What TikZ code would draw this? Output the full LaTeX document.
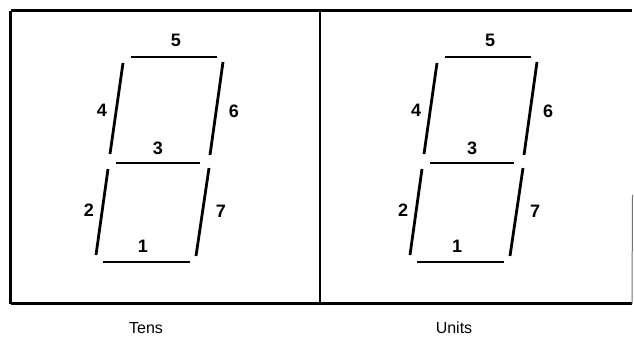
\documentclass[tikz,border=0pt]{standalone}
\usepackage{fontspec}
\setmainfont{Liberation Sans}
\begin{document}
\begin{tikzpicture}[x=1pt,y=-1pt,
  seg/.style={line width=2.8pt},
  lab/.style={font=\fontsize{18}{20}\selectfont\bfseries, inner sep=0pt},
  captext/.style={font=\fontsize{16}{18}\selectfont, inner sep=0pt},
  thickframe/.style={line width=3pt},
  thinframe/.style={line width=2.2pt},
  sevenseg/.pic={
    \draw[seg] (131,57) -- (217,57);
    \draw[seg] (123,63) -- (110,154);
    \draw[seg] (223,62) -- (210,155);
    \draw[seg] (116,163) -- (200,163);
    \draw[seg] (108,169) -- (96,255);
    \draw[seg] (209,168) -- (196,256);
    \draw[seg] (103,262) -- (190,262);
    \node[lab] at (176,40) {5};
    \node[lab] at (102,110) {4};
    \node[lab] at (234,111) {6};
    \node[lab] at (158,148) {3};
    \node[lab] at (89,210) {2};
    \node[lab] at (221,211) {7};
    \node[lab] at (143,246) {1};
  }]
\fill[white] (0,0) rectangle (634,341);
\useasboundingbox (0,0) rectangle (634,341);
% frame
\coordinate (tl) at (10.5,10.5);
\coordinate (bl) at (10.5,303.5);
\coordinate (tr) at (632,10.5);
\coordinate (br) at (632,303.5);
\coordinate (mt) at (320,10.5);
\coordinate (mb) at (320,303.5);
\coordinate (rs) at (632.5,195);
\draw[thickframe] (tl) -- (bl);
\draw[thinframe] (tl) -- (tr);
\draw[thickframe] (bl) -- (br);
\draw[thinframe] (mt) -- (mb);
\draw[line width=1pt, black!55] (rs) -- (br);
% digits
\pic at (0,0) {sevenseg};
\pic at (314,0) {sevenseg};
\node[captext] (tens) at (146,328) {Tens};
\node[captext] (units) at (454,328) {Units};
\end{tikzpicture}
\end{document}
